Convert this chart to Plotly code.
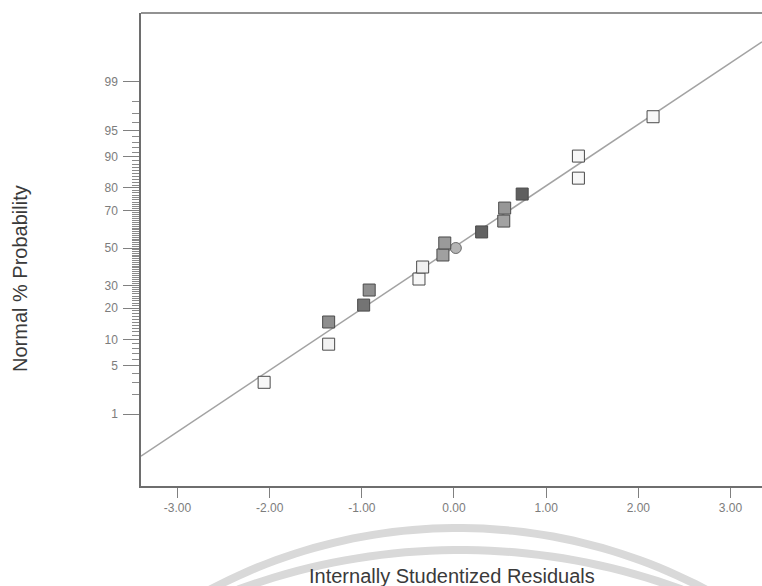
from statistics import NormalDist
import numpy as np
import plotly.graph_objects as go

# ---- data: internally studentized residuals vs. normal % probability ----
residuals = [-2.06, -1.36, -1.36, -0.98, -0.92, -0.38, -0.34, -0.12, -0.10,
             0.30, 0.54, 0.55, 0.74, 1.35, 1.35, 2.16]
probability = [3.0, 8.9, 15.0, 21.2, 27.8, 33.2, 39.5, 46.1, 52.8,
               58.9, 64.7, 71.2, 77.5, 83.6, 90.1, 96.7]

# single run drawn as a circle
center_residual = [0.02]
center_probability = [50.0]

# reference line (normal score = slope * residual + intercept)
fit_slope = 0.861
fit_intercept = 0.01

x_tick_values = [-3, -2, -1, 0, 1, 2, 3]
x_tick_labels = ["-3.00", "-2.00", "-1.00", "0.00", "1.00", "2.00", "3.00"]
y_major_probs = [1, 5, 10, 20, 30, 50, 70, 80, 90, 95, 99]
y_minor_probs = [p for p in range(1, 100) if p not in y_major_probs]

# ---- styling ----
point_fill = ["#f7f7f7", "#f2f2f2", "#8e8e8e", "#747474", "#8f8f8f", "#f7f7f7",
              "#f0f0f0", "#a0a0a0", "#9a9a9a", "#626262", "#a2a2a2", "#979797",
              "#5f5f5f", "#f7f7f7", "#f7f7f7", "#f7f7f7"]

W, H = 762, 586
ML, MR, MT, MB = 141, 0, 13, 100
PW, PH = W - ML - MR, H - MT - MB

nd = NormalDist()


def score(p):
    return nd.inv_cdf(p / 100.0)


x_range = [-3.396, 3.342]
y_range = [-3.333, 3.291]


def px_to_paper(px, py):
    return (px - ML) / PW, (H - MB - py) / PH


fig = go.Figure()

# reference line
line_x = np.array(x_range)
fig.add_trace(go.Scatter(
    x=line_x, y=fit_slope * line_x + fit_intercept, mode="lines",
    line=dict(color="#a3a3a3", width=1.5), hoverinfo="skip", showlegend=False))

fig.add_trace(go.Scatter(
    x=center_residual, y=[score(p) for p in center_probability], mode="markers",
    marker=dict(symbol="circle", size=11, color="#b4b4b4",
                line=dict(color="#6a6a6a", width=1)),
    showlegend=False))

fig.add_trace(go.Scatter(
    x=residuals, y=[score(p) for p in probability], mode="markers",
    marker=dict(symbol="square", size=12, color=point_fill,
                line=dict(color="#4a4a4a", width=1)),
    showlegend=False))

axis_font = dict(family="Liberation Sans, Arial, sans-serif", size=12, color="#7c7c7c")

fig.update_xaxes(
    range=x_range, tickmode="array", tickvals=x_tick_values, ticktext=x_tick_labels,
    ticks="outside", ticklen=10, tickcolor="#808080", tickwidth=1,
    showline=True, linecolor="#6e6e6e", linewidth=1.5, mirror=False,
    showgrid=False, zeroline=False, tickfont=axis_font)

fig.update_yaxes(
    range=y_range, tickmode="array",
    tickvals=[score(p) for p in y_major_probs],
    ticktext=[str(p) for p in y_major_probs],
    ticks="outside", ticklen=16, tickcolor="#808080", tickwidth=1,
    minor=dict(tickmode="array", tickvals=[score(p) for p in y_minor_probs],
               ticks="outside", ticklen=7, tickcolor="#8a8a8a", tickwidth=1,
               showgrid=False),
    showline=True, linecolor="#6e6e6e", linewidth=1.5, mirror=False,
    showgrid=False, zeroline=False, tickfont=axis_font, ticklabelstandoff=3)

shapes = [dict(type="line", xref="paper", yref="paper", x0=0, x1=1, y0=1, y1=1,
               line=dict(color="#6e6e6e", width=1.5))]

# faint circular watermark arcs behind the axis title
for cx, cy, r in [(458, 1058, 530), (460, 1192, 642)]:
    t = np.linspace(np.pi * 1.02, np.pi * 1.98, 160)
    pts = [(cx + r * np.cos(a), cy + r * np.sin(a)) for a in t]
    pts = [px_to_paper(px, py) for px, py in pts]
    path = "M " + " L ".join(f"{x:.4f},{y:.4f}" for x, y in pts)
    shapes.append(dict(type="path", xref="paper", yref="paper", path=path,
                       line=dict(color="#d9d9d9", width=8), layer="below"))

title_font = dict(family="Liberation Sans, Arial, sans-serif", size=20, color="#3a3a3a")
xt = px_to_paper(452, 576)
yt = px_to_paper(20, 279)
annotations = [
    dict(text="Internally Studentized Residuals", xref="paper", yref="paper",
         x=xt[0], y=xt[1], xanchor="center", yanchor="middle", showarrow=False,
         font=title_font),
    dict(text="Normal % Probability", xref="paper", yref="paper",
         x=yt[0], y=yt[1], xanchor="center", yanchor="middle", showarrow=False,
         textangle=-90, font=title_font),
]

fig.update_layout(
    width=W, height=H, margin=dict(l=ML, r=MR, t=MT, b=MB, pad=0),
    paper_bgcolor="white", plot_bgcolor="white",
    shapes=shapes, annotations=annotations, showlegend=False)

fig.write_html("out.html")
